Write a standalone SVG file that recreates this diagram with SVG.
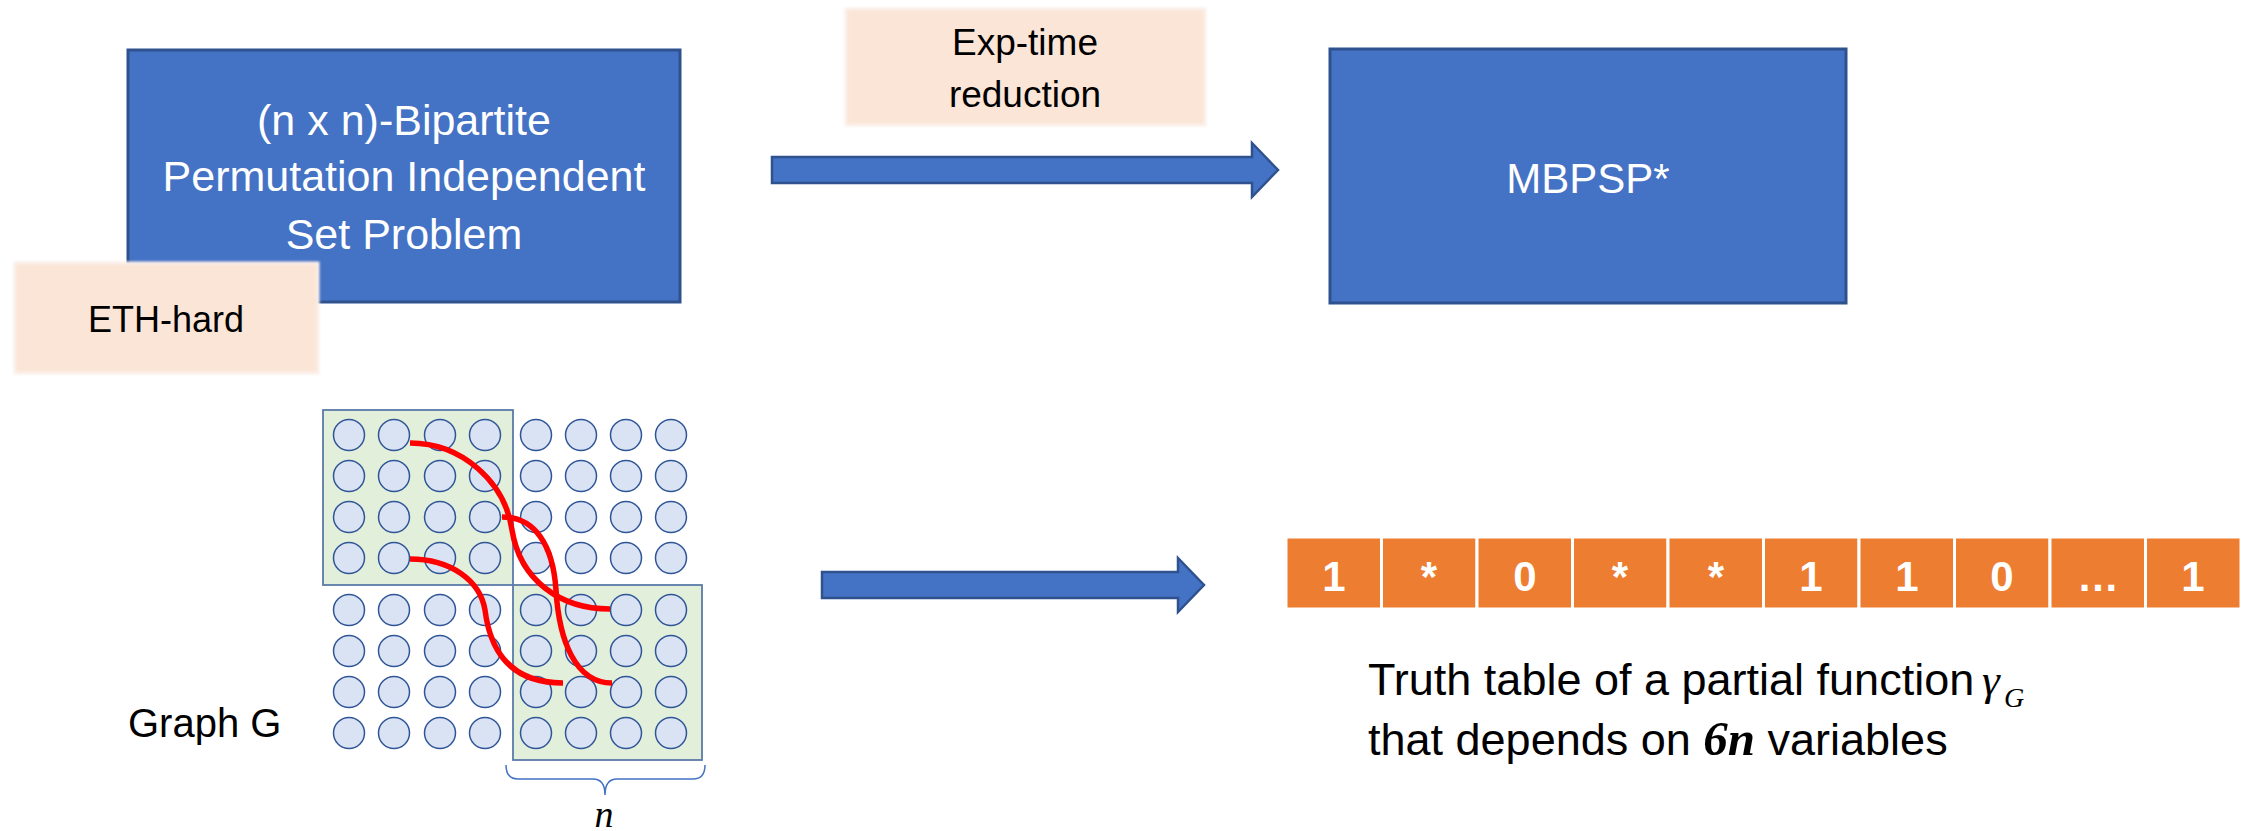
<svg xmlns="http://www.w3.org/2000/svg" width="2252" height="831" viewBox="0 0 2252 831">
<defs>
<filter id="soft" x="-5%" y="-5%" width="110%" height="110%"><feGaussianBlur stdDeviation="1.2"/></filter>
<style>
.box{fill:#4472C4;stroke:#2F528F;stroke-width:3}
.note{fill:#FBE5D6;stroke:#FBEFEA;stroke-width:3}
.wt{font-family:"Liberation Sans",Arial,sans-serif;fill:#FFFFFF;text-anchor:middle}
.bt{font-family:"Liberation Sans",Arial,sans-serif;fill:#000000}
.arrow{fill:#4472C4;stroke:#2F528F;stroke-width:2.5}
.cell{fill:#ED7D31;stroke:#FFFFFF;stroke-width:3}
.ct{font-family:"Liberation Sans",Arial,sans-serif;font-weight:bold;font-size:42px;fill:#FFFFFF;text-anchor:middle}
.v{fill:#DAE3F3;stroke:#2F5597;stroke-width:1.5}
.sq{fill:#E2EFDA;stroke:#5B7BA8;stroke-width:1.8}
.edge{fill:none;stroke:#FF0000;stroke-width:5.5}
.math{font-family:"Liberation Serif","Times New Roman",serif;font-style:italic}
</style>
</defs>
<rect width="2252" height="831" fill="#FFFFFF"/>

<g id="connectors">
<path class="arrow" d="M772,157 L1252,157 L1252,143 L1278,170 L1252,197 L1252,183 L772,183 Z"/>
<path class="arrow" d="M822,572 L1178,572 L1178,558 L1204,585 L1178,612 L1178,598 L822,598 Z"/>
</g>

<g id="node-bipartite">
<rect class="box" x="128" y="50" width="552" height="252"/>
<text class="wt" font-size="43"><tspan x="404" y="135">(n x n)-Bipartite</tspan><tspan x="404" y="191">Permutation Independent</tspan><tspan x="404" y="249">Set Problem</tspan></text>
</g>

<g id="node-eth">
<rect class="note" x="15" y="263" width="303" height="110" filter="url(#soft)"/>
<text class="bt" font-size="36" text-anchor="middle" x="166" y="332">ETH-hard</text>
</g>

<g id="node-exp">
<rect class="note" x="846" y="9" width="359" height="116" filter="url(#soft)"/>
<text class="bt" font-size="37" text-anchor="middle"><tspan x="1025" y="55">Exp-time</tspan><tspan x="1025" y="107">reduction</tspan></text>
</g>

<g id="node-mbpsp">
<rect class="box" x="1330" y="49" width="516" height="254"/>
<text class="wt" font-size="42" x="1588" y="193">MBPSP*</text>
</g>

<g id="node-graph">
<rect class="sq" x="323" y="410" width="190" height="175"/>
<rect class="sq" x="513" y="585" width="189" height="175"/>
<g id="vertices">
<circle class="v" cx="349" cy="435" r="15.5"/><circle class="v" cx="394" cy="435" r="15.5"/><circle class="v" cx="440" cy="435" r="15.5"/><circle class="v" cx="485" cy="435" r="15.5"/><circle class="v" cx="536" cy="435" r="15.5"/><circle class="v" cx="581" cy="435" r="15.5"/><circle class="v" cx="626" cy="435" r="15.5"/><circle class="v" cx="671" cy="435" r="15.5"/>
<circle class="v" cx="349" cy="476" r="15.5"/><circle class="v" cx="394" cy="476" r="15.5"/><circle class="v" cx="440" cy="476" r="15.5"/><circle class="v" cx="485" cy="476" r="15.5"/><circle class="v" cx="536" cy="476" r="15.5"/><circle class="v" cx="581" cy="476" r="15.5"/><circle class="v" cx="626" cy="476" r="15.5"/><circle class="v" cx="671" cy="476" r="15.5"/>
<circle class="v" cx="349" cy="517" r="15.5"/><circle class="v" cx="394" cy="517" r="15.5"/><circle class="v" cx="440" cy="517" r="15.5"/><circle class="v" cx="485" cy="517" r="15.5"/><circle class="v" cx="536" cy="517" r="15.5"/><circle class="v" cx="581" cy="517" r="15.5"/><circle class="v" cx="626" cy="517" r="15.5"/><circle class="v" cx="671" cy="517" r="15.5"/>
<circle class="v" cx="349" cy="558" r="15.5"/><circle class="v" cx="394" cy="558" r="15.5"/><circle class="v" cx="440" cy="558" r="15.5"/><circle class="v" cx="485" cy="558" r="15.5"/><circle class="v" cx="536" cy="558" r="15.5"/><circle class="v" cx="581" cy="558" r="15.5"/><circle class="v" cx="626" cy="558" r="15.5"/><circle class="v" cx="671" cy="558" r="15.5"/>
<circle class="v" cx="349" cy="610" r="15.5"/><circle class="v" cx="394" cy="610" r="15.5"/><circle class="v" cx="440" cy="610" r="15.5"/><circle class="v" cx="485" cy="610" r="15.5"/><circle class="v" cx="536" cy="610" r="15.5"/><circle class="v" cx="581" cy="610" r="15.5"/><circle class="v" cx="626" cy="610" r="15.5"/><circle class="v" cx="671" cy="610" r="15.5"/>
<circle class="v" cx="349" cy="651" r="15.5"/><circle class="v" cx="394" cy="651" r="15.5"/><circle class="v" cx="440" cy="651" r="15.5"/><circle class="v" cx="485" cy="651" r="15.5"/><circle class="v" cx="536" cy="651" r="15.5"/><circle class="v" cx="581" cy="651" r="15.5"/><circle class="v" cx="626" cy="651" r="15.5"/><circle class="v" cx="671" cy="651" r="15.5"/>
<circle class="v" cx="349" cy="692" r="15.5"/><circle class="v" cx="394" cy="692" r="15.5"/><circle class="v" cx="440" cy="692" r="15.5"/><circle class="v" cx="485" cy="692" r="15.5"/><circle class="v" cx="536" cy="692" r="15.5"/><circle class="v" cx="581" cy="692" r="15.5"/><circle class="v" cx="626" cy="692" r="15.5"/><circle class="v" cx="671" cy="692" r="15.5"/>
<circle class="v" cx="349" cy="733" r="15.5"/><circle class="v" cx="394" cy="733" r="15.5"/><circle class="v" cx="440" cy="733" r="15.5"/><circle class="v" cx="485" cy="733" r="15.5"/><circle class="v" cx="536" cy="733" r="15.5"/><circle class="v" cx="581" cy="733" r="15.5"/><circle class="v" cx="626" cy="733" r="15.5"/><circle class="v" cx="671" cy="733" r="15.5"/>
</g>
<g id="edges">
<path class="edge" d="M410,443 C462,443 505,482 512,530 C520,580 560,609 610,609"/>
<path class="edge" d="M502,517 C535,517 553,545 556,590 C559,640 575,683 612,683"/>
<path class="edge" d="M410,559 C450,559 480,580 485,610 C490,650 510,683 563,683"/>
</g>
<path d="M506,765 Q506,779 518,779 L593,779 Q605,779 605,795 Q605,779 617,779 L693,779 Q705,779 705,765" fill="none" stroke="#4472C4" stroke-width="1.5"/>
<text class="math" font-size="38" x="604" y="827" text-anchor="middle">n</text>
<text class="bt" font-size="40" x="128" y="737">Graph G</text>
</g>

<g id="node-truthtable">
<rect class="cell" x="1286" y="537" width="95.5" height="72"/>
<rect class="cell" x="1381.5" y="537" width="95.5" height="72"/>
<rect class="cell" x="1477" y="537" width="95.5" height="72"/>
<rect class="cell" x="1572.5" y="537" width="95.5" height="72"/>
<rect class="cell" x="1668" y="537" width="95.5" height="72"/>
<rect class="cell" x="1763.5" y="537" width="95.5" height="72"/>
<rect class="cell" x="1859" y="537" width="95.5" height="72"/>
<rect class="cell" x="1954.5" y="537" width="95.5" height="72"/>
<rect class="cell" x="2050" y="537" width="95.5" height="72"/>
<rect class="cell" x="2145.5" y="537" width="95.5" height="72"/>
<text class="ct" x="1334" y="591">1</text>
<text class="ct" x="1429" y="591">*</text>
<text class="ct" x="1525" y="591">0</text>
<text class="ct" x="1620" y="591">*</text>
<text class="ct" x="1716" y="591">*</text>
<text class="ct" x="1811" y="591">1</text>
<text class="ct" x="1907" y="591">1</text>
<text class="ct" x="2002" y="591">0</text>
<text class="ct" x="2098" y="591">…</text>
<text class="ct" x="2193" y="591">1</text>
</g>

<g id="node-caption">
<text class="bt" font-size="45"><tspan x="1368" y="695">Truth table of a partial function</tspan><tspan class="math" x="1982" y="695">γ</tspan><tspan class="math" font-size="28" x="2004" y="707">G</tspan></text>
<text class="bt" font-size="45" x="1368" y="755">that depends on <tspan class="math" font-weight="bold" font-size="49">6n</tspan> variables</text>
</g>
</svg>
